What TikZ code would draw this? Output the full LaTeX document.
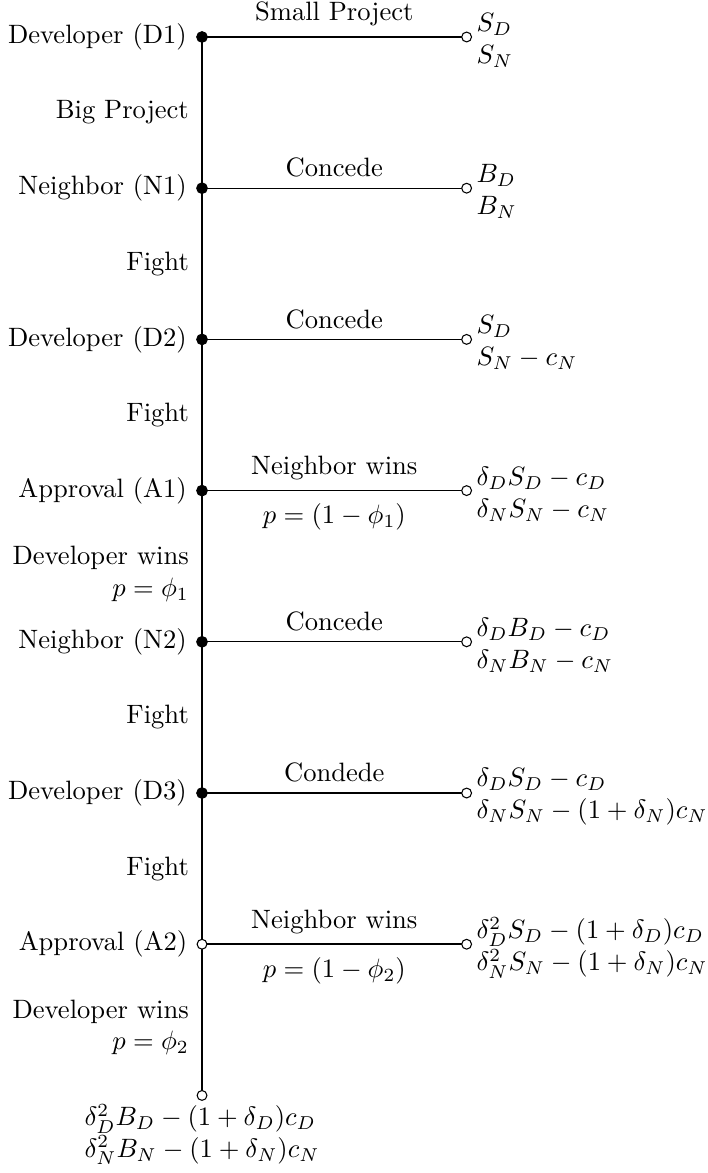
\documentclass[tikz,border=0pt]{standalone}
\begin{document}
\begin{tikzpicture}[
  dec/.style={circle,fill=black,draw=black,inner sep=0pt,minimum size=1.4mm},
  opn/.style={circle,fill=white,draw=black,inner sep=0pt,minimum size=1.3mm},
  pay/.style={anchor=west,align=left,inner sep=1.5pt},
  who/.style={anchor=east},
  act/.style={anchor=east,align=right,inner sep=3.33pt},
  edge/.style={draw=black,line width=0.45pt},
  thickedge/.style={draw=black,line width=0.9pt}
]
\useasboundingbox (-2.672,0.489) rectangle (6.68,-15.026);
% trunk coordinates
\coordinate (cD1) at (0,0);
\coordinate (cN1) at (0,-2);
\coordinate (cD2) at (0,-4);
\coordinate (cA1) at (0,-6);
\coordinate (cN2) at (0,-8);
\coordinate (cD3) at (0,-10);
\coordinate (cA2) at (0,-12);
\coordinate (cT)  at (0,-14);
% edges first
\draw[edge] (cD1) -- (cT);
\draw[edge] (cD1) -- (3.5,0) coordinate (eD1);
\draw[edge] (cN1) -- (3.5,-2) coordinate (eN1);
\draw[edge] (cD2) -- (3.5,-4) coordinate (eD2);
\draw[edge] (cA1) -- (3.5,-6) coordinate (eA1);
\draw[edge] (cN2) -- (3.5,-8) coordinate (eN2);
\draw[edge] (cD3) -- (3.5,-10) coordinate (eD3);
\draw[thickedge] (cA2) -- (3.5,-12) coordinate (eA2);
% nodes
\node[dec] (D1) at (cD1) {};
\node[dec] (N1) at (cN1) {};
\node[dec] (D2) at (cD2) {};
\node[dec] (A1) at (cA1) {};
\node[dec] (N2) at (cN2) {};
\node[dec] (D3) at (cD3) {};
\node[opn] (A2) at (cA2) {};
\node[opn] (T)  at (cT) {};
\node[opn] (tD1) at (eD1) {};
\node[opn] (tN1) at (eN1) {};
\node[opn] (tD2) at (eD2) {};
\node[opn] (tA1) at (eA1) {};
\node[opn] (tN2) at (eN2) {};
\node[opn] (tD3) at (eD3) {};
\node[opn] (tA2) at (eA2) {};
% player labels
\node[who] (lD1) at (D1.west) {Developer (D1)};
\node[who] (lN1) at (N1.west) {Neighbor (N1)};
\node[who] (lD2) at (D2.west) {Developer (D2)};
\node[who] (lA1) at (A1.west) {Approval (A1)};
\node[who] (lN2) at (N2.west) {Neighbor (N2)};
\node[who] (lD3) at (D3.west) {Developer (D3)};
\node[who] (lA2) at (A2.west) {Approval (A2)};
% trunk action labels
\node[act] (a1) at (-0.05,-1) {Big Project};
\node[act] (a2) at (-0.05,-3) {Fight};
\node[act] (a3) at (-0.05,-5) {Fight};
\node[act] (a4) at (-0.05,-7.1) {Developer wins\\ $p=\phi_1$};
\node[act] (a5) at (-0.05,-9) {Fight};
\node[act] (a6) at (-0.05,-11) {Fight};
\node[act] (a7) at (-0.05,-13.1) {Developer wins\\ $p=\phi_2$};
% branch labels
\node[above=0.5pt] (b1) at (1.75,0) {Small Project};
\node[above=0.5pt] (b2) at (1.75,-2) {Concede};
\node[above=0.5pt] (b3) at (1.75,-4) {Concede};
\node[above=0.5pt] (b4) at (1.75,-6) {Neighbor wins};
\node[below=1.5pt] (b4p) at (1.75,-6) {$p=(1-\phi_1)$};
\node[above=0.5pt] (b5) at (1.75,-8) {Concede};
\node[above=0.5pt] (b6) at (1.75,-10) {Condede};
\node[above=0.5pt] (b7) at (1.75,-12) {Neighbor wins};
\node[below=1.5pt] (b7p) at (1.75,-12) {$p=(1-\phi_2)$};
% payoffs
\node[pay] (pD1) at ([yshift=-1.3pt]tD1.east) {$S_D$\\ $S_N$};
\node[pay] (pN1) at ([yshift=-1.3pt]tN1.east) {$B_D$\\ $B_N$};
\node[pay] (pD2) at ([yshift=-1.3pt]tD2.east) {$S_D$\\ $S_N-c_N$};
\node[pay] (pA1) at ([yshift=-1.3pt]tA1.east) {$\delta_D S_D-c_D$\\ $\delta_N S_N-c_N$};
\node[pay] (pN2) at ([yshift=-1.3pt]tN2.east) {$\delta_D B_D-c_D$\\ $\delta_N B_N-c_N$};
\node[pay] (pD3) at ([yshift=-1.3pt]tD3.east) {$\delta_D S_D-c_D$\\ $\delta_N S_N-(1+\delta_N)c_N$};
\node[pay] (pA2) at ([yshift=-1.3pt]tA2.east) {$\delta_D^2 S_D-(1+\delta_D)c_D$\\ $\delta_N^2 S_N-(1+\delta_N)c_N$};
\node[anchor=north,align=left,inner sep=1pt] (pT) at (T.south) {$\delta_D^2 B_D-(1+\delta_D)c_D$\\ $\delta_N^2 B_N-(1+\delta_N)c_N$};
\end{tikzpicture}
\end{document}
